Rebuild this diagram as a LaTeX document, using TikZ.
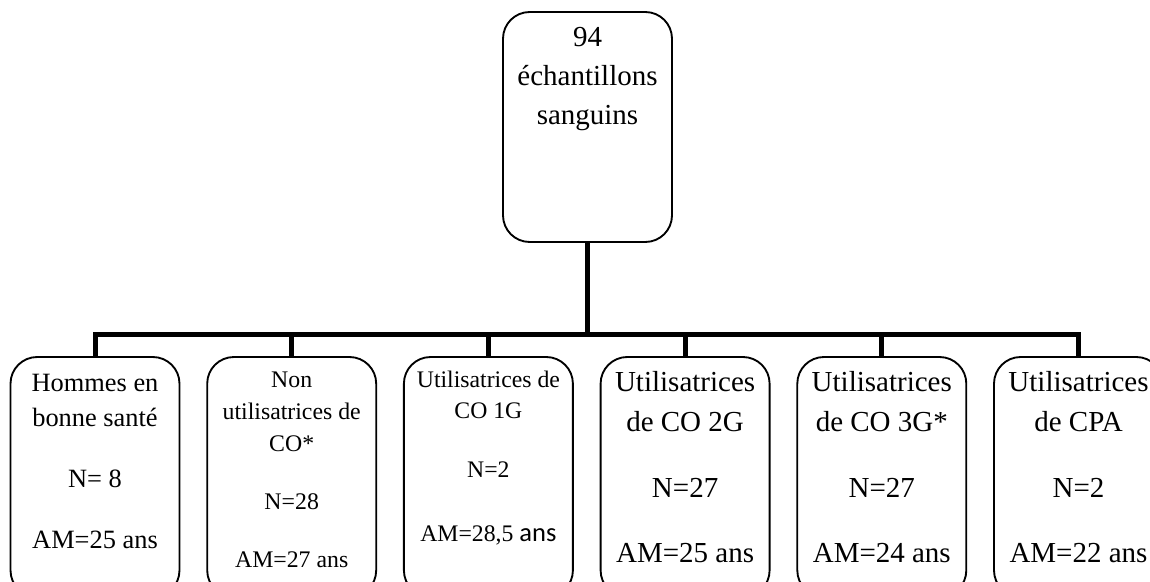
\documentclass[tikz,border=0pt]{standalone}
\usepackage{fontspec}
\setmainfont{Liberation Serif}
\newfontfamily\carlito{Carlito}
\begin{document}
\begin{tikzpicture}[x=0.75pt,y=-0.75pt,
  box/.style={draw, line width=1.4pt, rounded corners=20pt, minimum width=126.75pt, inner sep=0pt},
  group/.style={box, minimum height=180pt},
  link/.style={line width=3.75pt, line join=miter},
  txt/.style={anchor=north, align=center, inner sep=0pt}]
\clip (0,0) rectangle (1150,582);

% root sample box
\node[box, minimum height=172.5pt] (root) at (587.5,127) {};
\node[txt, font=\fontsize{21.75}{28.9}\selectfont] (rootlbl) at ([yshift=-12.3pt]root.north)
  {94\\échantillons\\sanguins};

% sub-groups
\node[group] (g1) at (95,477) {};
\node[group] (g2) at (291.7,477) {};
\node[group] (g3) at (488.4,477) {};
\node[group] (g4) at (685.1,477) {};
\node[group] (g5) at (881.8,477) {};
\node[group] (g6) at (1078.5,477) {};

\node[txt, font=\fontsize{19.8}{26.25}\selectfont] (l1) at ([yshift=-13.1pt]g1.north)
  {Hommes en\\bonne santé\\[19.5pt]N= 8\\[19.5pt]AM=25 ans};
\node[txt, font=\fontsize{17.85}{24}\selectfont] (l2) at ([yshift=-11.4pt]g2.north)
  {Non\\utilisatrices de\\CO*\\[19.5pt]N=28\\[19.5pt]AM=27 ans};
\node[txt, font=\fontsize{17.8}{23.25}\selectfont] (l3) at ([yshift=-11.1pt]g3.north)
  {Utilisatrices de\\CO 1G\\[21pt]N=2\\[24.75pt]AM=28,5 {\carlito\fontsize{19.9}{23.25}\selectfont ans}};
\node[txt, font=\fontsize{21.75}{30}\selectfont] (l4) at ([yshift=-11.4pt]g4.north)
  {Utilisatrices\\de CO 2G\\[19.5pt]N=27\\[18.75pt]AM=25 ans};
\node[txt, font=\fontsize{21.75}{30}\selectfont] (l5) at ([yshift=-11.4pt]g5.north)
  {Utilisatrices\\de CO 3G*\\[19.5pt]N=27\\[18.75pt]AM=24 ans};
\node[txt, font=\fontsize{21.75}{30}\selectfont] (l6) at ([yshift=-11.4pt]g6.north)
  {Utilisatrices\\de CPA\\[19.5pt]N=2\\[18.75pt]AM=22 ans};

% tree connectors
\coordinate (bus) at (587.5,334);
\draw[link] (root.south) -- (bus);
\foreach \g in {g1,g2,g3,g4,g5,g6}
  \draw[link] (bus) -| (\g.north);
\end{tikzpicture}
\end{document}
